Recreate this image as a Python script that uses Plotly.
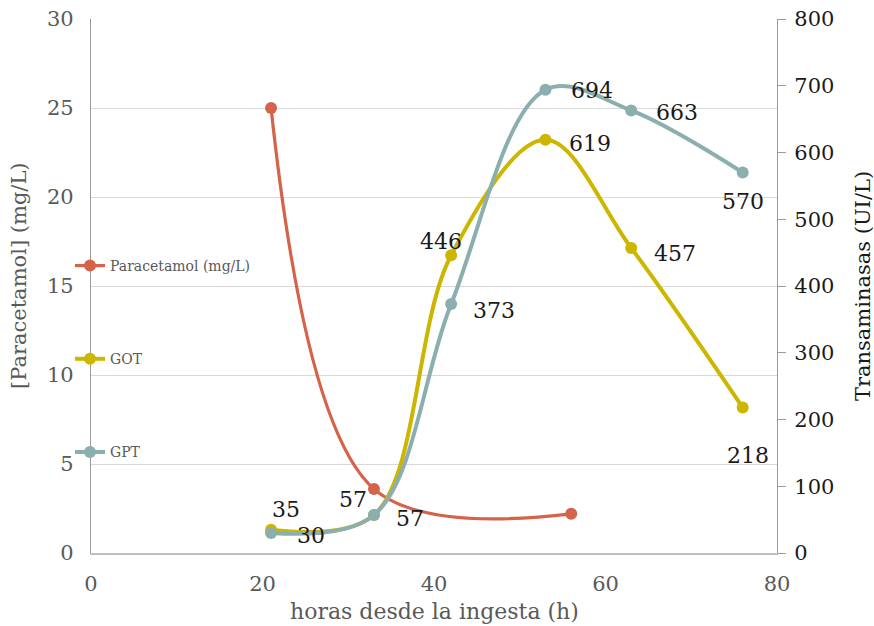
import plotly.graph_objects as go

# Data
para_x = [21, 33, 56]
para_y = [25, 3.6, 2.2]
got_x = [21, 33, 42, 53, 63, 76]
got_y = [35, 57, 446, 619, 457, 218]
gpt_x = [21, 33, 42, 53, 63, 76]
gpt_y = [30, 57, 373, 694, 663, 570]

# label offsets (style only, pixels)
got_dx = [15, -21, -10, 45, 44, 5]
got_dy = [-20, -15, -14, 4, 6, 48]
gpt_dx = [40, 36, 43, 47, 46, 0]
gpt_dy = [3, 4, 6, 1, 2, 29]

C_PARA = "#D4634A"
C_GOT = "#CDB600"
C_GPT = "#8BAEAF"
FONT = "DejaVu Serif"
GRAY = "#595959"

fig = go.Figure()
fig.add_trace(go.Scatter(x=para_x, y=para_y, name="Paracetamol (mg/L)", mode="lines+markers",
                         line=dict(color=C_PARA, width=3.2, shape="spline", smoothing=1.0),
                         marker=dict(size=12, color=C_PARA), yaxis="y", legendgroup="a"))
fig.add_trace(go.Scatter(x=got_x, y=got_y, name="GOT", mode="lines+markers",
                         line=dict(color=C_GOT, width=4, shape="spline", smoothing=1.0),
                         marker=dict(size=12, color=C_GOT), yaxis="y2", legendgroup="b"))
fig.add_trace(go.Scatter(x=gpt_x, y=gpt_y, name="GPT", mode="lines+markers",
                         line=dict(color=C_GPT, width=4, shape="spline", smoothing=1.0),
                         marker=dict(size=12, color=C_GPT), yaxis="y2", legendgroup="c"))

annotations = []
for xs, ys, dxs, dys in [(got_x, got_y, got_dx, got_dy), (gpt_x, gpt_y, gpt_dx, gpt_dy)]:
    for x, y, dx, dy in zip(xs, ys, dxs, dys):
        annotations.append(dict(x=x, y=y, xref="x", yref="y2", text=str(y), showarrow=False,
                                xshift=dx, yshift=-dy, font=dict(family=FONT, size=22, color="#1a1a1a")))

annotations.append(dict(x=-0.104, y=0.52, xref="paper", yref="paper", text="[Paracetamol] (mg/L)",
                        textangle=-90, showarrow=False, xanchor="center", yanchor="middle",
                        font=dict(family=FONT, size=21, color=GRAY)))
annotations.append(dict(x=1.1255, y=0.50, xref="paper", yref="paper", text="Transaminasas (UI/L)",
                        textangle=-90, showarrow=False, xanchor="center", yanchor="middle",
                        font=dict(family=FONT, size=21, color="#1a1a1a")))
annotations.append(dict(x=0.50, y=-0.11, xref="paper", yref="paper", text="horas desde la ingesta (h)",
                        showarrow=False, xanchor="center", yanchor="middle",
                        font=dict(family=FONT, size=22, color=GRAY)))

fig.update_layout(
    width=874, height=626,
    margin=dict(l=91, r=97, t=19, b=73, autoexpand=False),
    paper_bgcolor="white", plot_bgcolor="white",
    showlegend=True,
    legend=dict(x=(70 - 91) / 686, y=(553 - 250) / 534,
                xanchor="left", yanchor="top", traceorder="grouped", tracegroupgap=72,
                bgcolor="rgba(0,0,0,0)", font=dict(family=FONT, size=14, color=GRAY)),
    xaxis=dict(range=[0, 80], tickvals=[0, 20, 40, 60, 80], showgrid=False, zeroline=False,
               showline=True, linecolor="#bfbfbf", linewidth=1.5, automargin=False,
               tickfont=dict(family=FONT, size=21, color=GRAY), ticks="", ticklabelstandoff=11),
    yaxis=dict(range=[0, 30], tickvals=[0, 5, 10, 15, 20, 25, 30], showgrid=True, gridcolor="#d9d9d9",
               zeroline=False, showline=True, linecolor="#9a9a9a", linewidth=1.2, automargin=False,
               tickfont=dict(family=FONT, size=21, color=GRAY), ticks="", ticklabelstandoff=12),
    yaxis2=dict(range=[0, 800], tickvals=list(range(0, 801, 100)), overlaying="y", side="right",
                showgrid=False, zeroline=False, showline=True, linecolor="#9a9a9a", linewidth=1.2,
                ticks="outside", ticklen=8, tickcolor="#9a9a9a", automargin=False,
                tickfont=dict(family=FONT, size=21, color="#1a1a1a"), ticklabelstandoff=4),
    annotations=annotations,
)

fig.write_html("out.html")
